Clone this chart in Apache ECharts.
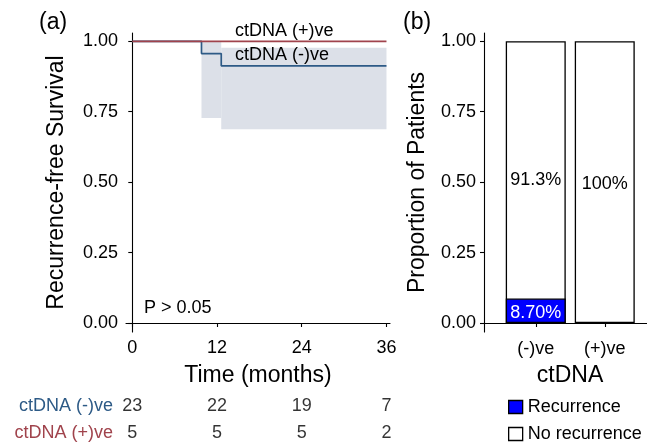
<!DOCTYPE html>
<html>
<head>
<meta charset="utf-8">
<script src="https://cdn.jsdelivr.net/npm/echarts@6/dist/echarts.min.js"></script>
<style>
html,body{margin:0;padding:0;background:#fff;}
#c{width:647px;height:442px;}
</style>
</head>
<body>
<div id="c"></div>
<script>
// ---- Panel (a): Kaplan-Meier ----
var negTimes = [0, 9.8, 12.6, 36];
var negSurv = [1, 0.9565, 0.913, 0.913];
var posTimes = [0, 36];
var posSurv = [1, 1];
var ciTimes = [9.8, 12.6, 36];
var ciLower = [0.728, 0.688, 0.688];
var ciUpper = [1.0, 0.977, 0.977];
var kmXTicks = [0, 12, 24, 36];
var yTicks = [0, 0.25, 0.5, 0.75, 1];
var groupNames = ['ctDNA (-)ve', 'ctDNA (+)ve'];
var riskTimes = [0, 12, 24, 36];
var riskNeg = [23, 22, 19, 7];
var riskPos = [5, 5, 5, 2];
// ---- Panel (b): proportions ----
var barCats = ['(-)ve', '(+)ve'];
var recurrence = [0.087, 0];
var noRecurrence = [0.913, 1.0];

var FONT = 'Liberation Sans, Arial, Helvetica, sans-serif';
var BLUE = '#2D5A86';
var RED = '#A0434C';
var BAND = '#DCE0E8';
var AX = '#000';

function pairs(xs, ys) { return xs.map(function (x, i) { return [x, ys[i]]; }); }

var chart = echarts.init(document.getElementById('c'), null, { renderer: 'canvas' });

var yAxisCommon = {
  type: 'value', min: -0.032, max: 1.0295,
  axisLine: { show: true, lineStyle: { color: AX, width: 1.1 } },
  axisTick: { show: true, length: 4, lineStyle: { color: AX, width: 1.1 }, customValues: yTicks },
  axisLabel: { show: true, customValues: yTicks, margin: 8, color: '#000', fontSize: 18, fontFamily: FONT,
    formatter: function (v) { return v.toFixed(2); } },
  splitLine: { show: false },
  nameLocation: 'middle',
  nameTextStyle: { fontSize: 23, fontFamily: FONT, color: '#000' }
};

// risk table rows: 1 = (-)ve, 0 = (+)ve
var riskData = [];
riskTimes.forEach(function (t, i) {
  riskData.push([t, 1, riskNeg[i]]);
  riskData.push([t, 0, riskPos[i]]);
});

var ciSegments = [];
for (var i = 0; i < ciTimes.length - 1; i++) {
  ciSegments.push([ciTimes[i], ciTimes[i + 1], ciLower[i], ciUpper[i]]);
}

var option = {
  animation: false,
  backgroundColor: '#fff',
  textStyle: { fontFamily: FONT },
  grid: [
    { left: 126, top: 33, width: 264, height: 299 },
    { left: 484, top: 33, width: 163, height: 299 },
    { left: 126, top: 392, width: 264, height: 50 }
  ],
  xAxis: [
    {
      gridIndex: 0, type: 'value', min: -0.89, max: 36.5,
      name: 'Time (months)', nameLocation: 'middle', nameGap: 32,
      nameTextStyle: { fontSize: 23, fontFamily: FONT, color: '#000' },
      axisLine: { show: true, lineStyle: { color: AX, width: 1.1 } },
      axisTick: { show: true, length: 4, lineStyle: { color: AX, width: 1.1 }, customValues: kmXTicks },
      axisLabel: { show: true, customValues: kmXTicks, margin: 7, color: '#000', fontSize: 18, fontFamily: FONT },
      splitLine: { show: false }
    },
    {
      gridIndex: 1, type: 'value', min: 0.25, max: 0.25 + 163 / 69,
      name: 'ctDNA', nameLocation: 'middle', nameGap: 32,
      nameTextStyle: { fontSize: 23, fontFamily: FONT, color: '#000', padding: [0, 0, 0, 9] },
      axisLine: { show: true, lineStyle: { color: AX, width: 1.1 } },
      axisTick: { show: true, length: 4, lineStyle: { color: AX, width: 1.1 }, customValues: [1, 2] },
      axisLabel: { show: true, customValues: [1, 2], margin: 8, color: '#000', fontSize: 18, fontFamily: FONT,
        formatter: function (v) { return barCats[Math.round(v) - 1]; } },
      splitLine: { show: false }
    },
    {
      gridIndex: 2, type: 'value', min: -0.89, max: 36.5, show: false
    }
  ],
  yAxis: [
    Object.assign({}, yAxisCommon, { gridIndex: 0, name: 'Recurrence-free Survival', nameGap: 58 }),
    Object.assign({}, yAxisCommon, { gridIndex: 1, name: 'Proportion of Patients', nameGap: 55 }),
    {
      gridIndex: 2, type: 'value', min: -1 / 3, max: 1 + 14 / 27,
      axisLine: { show: false }, axisTick: { show: false }, splitLine: { show: false },
      axisLabel: { show: true, customValues: [0, 1], margin: 13, fontSize: 18, fontFamily: FONT,
        formatter: function (v) { return v > 0.5 ? groupNames[0] : groupNames[1]; },
        color: function (v) { return Number(v) > 0.5 ? BLUE : RED; } }
    }
  ],
  legend: {
    orient: 'vertical', left: 503, top: 392, height: 80, itemWidth: 14, itemHeight: 13, itemGap: 7,
    icon: 'rect', selectedMode: false,
    textStyle: { fontSize: 18, fontFamily: FONT, color: '#000', lineHeight: 20 },
    data: [
      { name: 'Recurrence', itemStyle: { color: '#0000FF', borderColor: '#000', borderWidth: 1.3 } },
      { name: 'No recurrence', itemStyle: { color: '#FFFFFF', borderColor: '#000', borderWidth: 1.3 } }
    ]
  },
  series: [
    {
      name: 'ci-band', type: 'custom', xAxisIndex: 0, yAxisIndex: 0, silent: true,
      data: ciSegments, encode: { x: [0, 1], y: [2, 3] },
      renderItem: function (params, api) {
        var p1 = api.coord([api.value(0), api.value(3)]);
        var p2 = api.coord([api.value(1), api.value(2)]);
        return { type: 'rect', shape: { x: p1[0], y: p1[1], width: p2[0] - p1[0], height: p2[1] - p1[1] },
          style: { fill: BAND } };
      }
    },
    {
      name: groupNames[0], type: 'line', xAxisIndex: 0, yAxisIndex: 0, step: 'end',
      data: pairs(negTimes, negSurv), symbol: 'none', lineStyle: { color: BLUE, width: 1.7 }
    },
    {
      name: groupNames[1], type: 'line', xAxisIndex: 0, yAxisIndex: 0, step: 'end',
      data: pairs(posTimes, posSurv), symbol: 'none', lineStyle: { color: RED, width: 1.7 }
    },
    {
      name: 'risk', type: 'scatter', xAxisIndex: 2, yAxisIndex: 2, symbolSize: 0,
      data: riskData,
      label: { show: true, position: 'inside', fontSize: 18, fontFamily: FONT, color: '#000',
        formatter: function (p) { return String(p.data[2]); } }
    },
    {
      // full column height (recurrence + no recurrence), drawn first
      name: 'No recurrence', type: 'bar', xAxisIndex: 1, yAxisIndex: 1, barWidth: 60, barGap: '-100%',
      itemStyle: { color: '#FFFFFF', borderColor: '#000', borderWidth: 1.3 },
      data: noRecurrence.map(function (v, i) {
        return {
          value: [i + 1, recurrence[i] + v],
          label: { show: true, position: 'inside', offset: [0, i === 0 ? -2 : 2], color: '#000', fontSize: 18, fontFamily: FONT,
            formatter: (v * 100).toPrecision(3).replace(/\.0+$/, '') + '%' }
        };
      })
    },
    {
      name: 'Recurrence', type: 'bar', xAxisIndex: 1, yAxisIndex: 1, barWidth: 60, barGap: '-100%',
      itemStyle: { color: '#0000FF', borderColor: '#000', borderWidth: 1.3 },
      data: recurrence.map(function (v, i) {
        return {
          value: [i + 1, v],
          itemStyle: v > 0 ? {} : { borderWidth: 0, opacity: 0 },
          label: { show: v > 0, position: 'inside', offset: [0, 2], color: '#fff', fontSize: 18, fontFamily: FONT,
            formatter: (v * 100).toPrecision(3) + '%' }
        };
      })
    }
  ],
  graphic: [
    { type: 'text', z: 100, left: 39, top: 11, style: { text: '(a)', font: '23px ' + FONT, fill: '#000' } },
    { type: 'text', z: 100, left: 403, top: 11, style: { text: '(b)', font: '23px ' + FONT, fill: '#000' } },
    { type: 'text', z: 100, left: 235, top: 22, style: { text: groupNames[1], font: '18px ' + FONT, fill: '#000' } },
    { type: 'text', z: 100, left: 235, top: 46, style: { text: groupNames[0], font: '18px ' + FONT, fill: '#000' } },
    { type: 'text', z: 100, left: 144, top: 299, style: { text: 'P > 0.05', font: '18px ' + FONT, fill: '#000' } }
  ]
};
chart.setOption(option);
</script>
</body>
</html>
